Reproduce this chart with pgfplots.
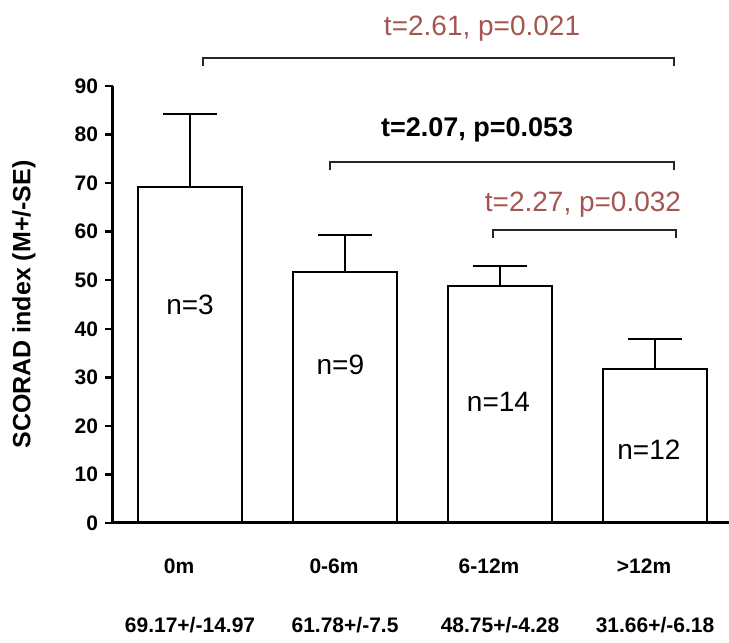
\documentclass[border=0pt]{standalone}
\usepackage{fontspec}
\setmainfont{Liberation Sans}
\usepackage{pgfplots}
\usepackage{pgfplotstable}
\pgfplotsset{compat=1.18}
\definecolor{tred}{RGB}{165,85,80}
\pgfplotstableread{
x y e
0 69.17 14.97
1 51.78 7.5
2 48.75 4.28
3 31.66 6.18
}\scoradtable
\begin{document}
\begin{tikzpicture}
\path[use as bounding box] (-56.5pt,-60pt) rectangle (308pt,261.5pt);
\begin{axis}[
  at={(0,0)}, anchor=south west,
  scale only axis, width=308pt, height=218.5pt,
  ybar, bar width=52pt,
  xmin=-0.497, xmax=3.477, ymin=0, ymax=90,
  clip=false, axis on top=true,
  axis x line=bottom, axis y line=left,
  axis line style={-, line width=1.5pt, black},
  ytick={0,10,...,90},
  tick align=outside, major tick length=4pt,
  ytick style={line width=1.2pt, black},
  xtick={0,1,2,3},
  xticklabels={0m,0-6m,6-12m,>12m},
  major x tick style={draw=none},
  xticklabel style={font=\fontsize{10.5}{12}\selectfont\bfseries, anchor=center, yshift=-17.5pt, xshift=-5.5pt},
  yticklabel style={font=\fontsize{10.5}{12}\selectfont\bfseries},
  /pgf/number format/assume math mode=true,
  ylabel={SCORAD index (M+/-SE)},
  ylabel style={font=\fontsize{12.5}{14}\selectfont\bfseries, at={(axis description cs:-0.1445,0.5)}, anchor=center},
]
\addplot[fill=white, draw=black, line width=1pt,
  error bars/.cd, y dir=plus, y explicit, error mark=|,
  error bar style={line width=1pt, black},
  error mark options={mark size=13.5pt, line width=1pt, black}]
  table[x=x, y=y, y error=e] {\scoradtable};

% second row of category labels
\node[font=\fontsize{10.5}{12}\selectfont\bfseries, yshift=-51pt] at (axis cs:0,0) {69.17+/-14.97};
\node[font=\fontsize{10.5}{12}\selectfont\bfseries, yshift=-51pt] at (axis cs:1,0) {61.78+/-7.5};
\node[font=\fontsize{10.5}{12}\selectfont\bfseries, yshift=-51pt] at (axis cs:2,0) {48.75+/-4.28};
\node[font=\fontsize{10.5}{12}\selectfont\bfseries, yshift=-51pt] at (axis cs:3,0) {31.66+/-6.18};

% n labels
\node[font=\fontsize{14}{16}\selectfont] at (axis cs:0,45) {n=3};
\node[font=\fontsize{14}{16}\selectfont] at (axis cs:0.97,32.5) {n=9};
\node[font=\fontsize{14}{16}\selectfont] at (axis cs:1.99,25) {n=14};
\node[font=\fontsize{14}{16}\selectfont] at (axis cs:2.96,15) {n=12};

% brackets
\draw[line width=0.8pt, black!85] (axis cs:0.084,94.2) -- (axis cs:0.084,95.8) -- (axis cs:3.123,95.8) -- (axis cs:3.123,94.2);
\draw[line width=0.8pt, black!85] (axis cs:0.903,72.7) -- (axis cs:0.903,74.3) -- (axis cs:3.123,74.3) -- (axis cs:3.123,72.7);
\draw[line width=0.8pt, black!85] (axis cs:1.955,58.7) -- (axis cs:1.955,60.3) -- (axis cs:3.135,60.3) -- (axis cs:3.135,58.7);

\node[font=\fontsize{14}{16}\selectfont, text=tred] at (axis cs:1.884,101.9) {t=2.61, p=0.021};
\node[font=\fontsize{13.5}{16}\selectfont\bfseries] at (axis cs:1.852,80.9) {t=2.07, p=0.053};
\node[font=\fontsize{14}{16}\selectfont, text=tred] at (axis cs:2.535,65.5) {t=2.27, p=0.032};
\end{axis}
\end{tikzpicture}
\end{document}
